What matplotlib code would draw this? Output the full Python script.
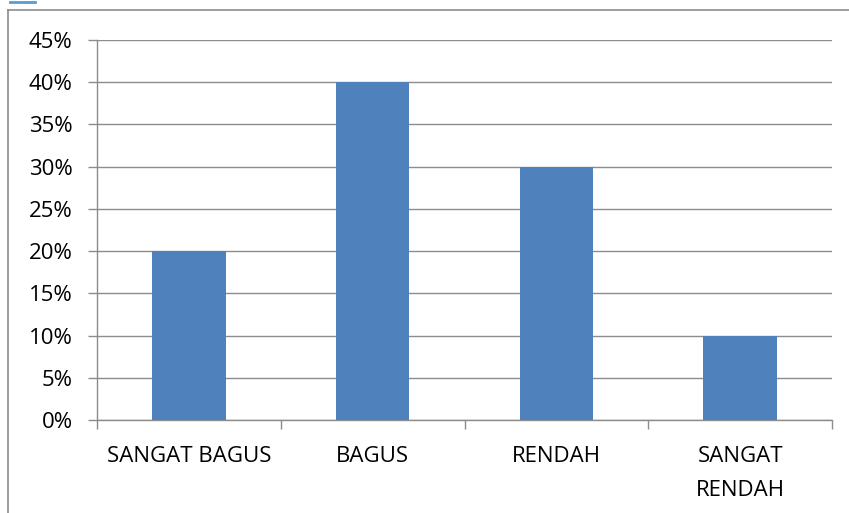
import matplotlib.pyplot as plt
from matplotlib.lines import Line2D
from matplotlib.ticker import FuncFormatter

categories = ['SANGAT BAGUS', 'BAGUS', 'RENDAH', 'SANGAT\nRENDAH']
values = [0.20, 0.40, 0.30, 0.10]
y_ticks = [0, 0.05, 0.10, 0.15, 0.20, 0.25, 0.30, 0.35, 0.40, 0.45]

plt.rcParams['font.family'] = ['Open Sans', 'DejaVu Sans']

W, H = 849, 513
fig = plt.figure(figsize=(W / 100, H / 100), dpi=100)
ax = fig.add_axes([97 / W, 1 - 420 / H, (832 - 97) / W, (420 - 40) / H])

grid_col = '#8c8c8c'
x = list(range(len(categories)))
ax.bar(x, values, width=0.4, color='#4f81bd', zorder=3)

ax.set_xlim(-0.5, len(categories) - 0.5)
ax.set_ylim(0, 0.45)
ax.set_yticks(y_ticks)
ax.yaxis.set_major_formatter(FuncFormatter(lambda v, p: f'{v * 100:.0f}%'))
ax.grid(axis='y', color=grid_col, linewidth=1, zorder=0)

# category separators as x ticks
ax.set_xticks([i - 0.5 for i in range(len(categories) + 1)])
ax.set_xticklabels([])
ax.set_xticks(x, minor=True)
ax.set_xticklabels(categories, minor=True, fontsize=16, linespacing=1.8)
ax.tick_params(axis='x', which='minor', length=0, pad=19)
ax.tick_params(axis='x', which='major', length=6.5, color=grid_col, width=1)
ax.tick_params(axis='y', length=6.5, color=grid_col, width=1, labelsize=16, pad=11)

for s in ['top', 'right']:
    ax.spines[s].set_visible(False)
for s in ['left', 'bottom']:
    ax.spines[s].set_color(grid_col)
    ax.spines[s].set_linewidth(1)

# outer chart frame (cropped at right and bottom)
fig.add_artist(Line2D([8 / W, 8 / W], [0, 1 - 10 / H], color='#8c8c8c', lw=1.2))
fig.add_artist(Line2D([8 / W, 1], [1 - 10 / H, 1 - 10 / H], color='#8c8c8c', lw=1.2))
# small blue icon remnant at top-left
fig.add_artist(Line2D([10 / W, 30 / W], [1 - 2 / H, 1 - 2 / H], color='#5b9bd5', lw=2))
fig.add_artist(Line2D([32 / W, 35 / W], [1 - 2 / H, 1 - 2 / H], color='#5b9bd5', lw=2))

fig.savefig('out.png', dpi=100)
